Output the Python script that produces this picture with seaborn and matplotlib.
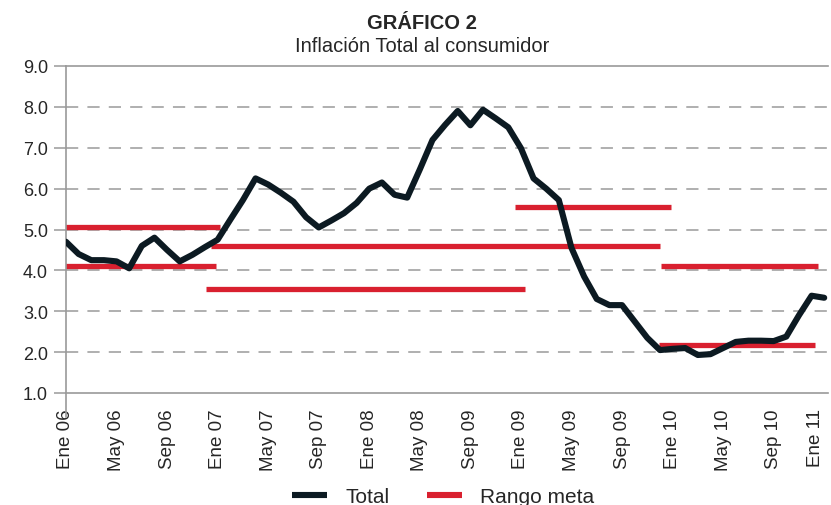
import seaborn as sns
import pandas as pd
import numpy as np
import matplotlib.pyplot as plt
from matplotlib.lines import Line2D

# inflacion total mensual, Ene 06 - Ene 11
total = [4.70, 4.40, 4.25, 4.25, 4.22, 4.05, 4.60, 4.80, 4.50, 4.22,
         4.38, 4.57, 4.75, 5.24, 5.72, 6.25, 6.10, 5.90, 5.68, 5.30,
         5.05, 5.22, 5.40, 5.65, 6.00, 6.15, 5.85, 5.78, 6.47, 7.19,
         7.56, 7.90, 7.55, 7.93, 7.72, 7.50, 6.99, 6.25, 6.00, 5.72,
         4.55, 3.85, 3.30, 3.15, 3.15, 2.75, 2.35, 2.05, 2.08, 2.10,
         1.93, 1.95, 2.10, 2.25, 2.28, 2.28, 2.27, 2.38, 2.90, 3.38,
         3.33]
meses = list(range(len(total)))

# rango meta: nivel, mes inicial, mes final
meta_nivel = [5.05, 4.10, 4.60, 3.55, 5.55, 4.10, 2.17]
meta_desde = [-0.3, -0.5, 11.5, 11.1, 35.5, 47.1, 46.9]
meta_hasta = [12.2, 11.9, 47.0, 36.3, 47.9, 59.5, 59.3]

tick_pos = list(range(0, 61, 4))
tick_labels = ['Ene 06', 'May 06', 'Sep 06', 'Ene 07', 'May 07', 'Sep 07',
               'Ene 08', 'May 08', 'Sep 09', 'Ene 09', 'May 09', 'Sep 09',
               'Ene 10', 'May 10', 'Sep 10', 'Ene 11']

data = pd.DataFrame({'Mes': meses, 'Total': total})

sns.set_theme(style='white')
plt.rcParams['font.family'] = ['Liberation Sans', 'DejaVu Sans']

negro = '#0c1a22'
rojo = '#d9202f'
gris = '#9a9a9a'

fig = plt.figure(figsize=(8.31, 5.06), dpi=100)
ax = fig.add_axes([66 / 831, 1 - 394 / 506, 762 / 831, 327 / 506])

# lineas de rango meta
ax.hlines(meta_nivel, meta_desde, meta_hasta, color=rojo, lw=3.8, zorder=2)

sns.lineplot(x='Mes', y='Total', data=data, color=negro, lw=4.4, ax=ax, zorder=3)

ax.set_xlim(0, 60.3)
ax.set_ylim(1, 9)
ax.set_yticks(np.arange(1, 10, 1))
ax.set_yticklabels([f'{v:.1f}' for v in np.arange(1, 10, 1)], fontsize=13)
ax.set_xticks(tick_pos)
ax.set_xticklabels(tick_labels, rotation=90, fontsize=13.5)
ax.set_xlabel('')
ax.set_ylabel('')

# la ultima etiqueta queda en el borde: se alinea a la derecha del tick
ax.get_xticklabels()[-1].set_horizontalalignment('right')

for y in range(2, 9):
    ax.axhline(y, color=gris, lw=1.1, ls=(0, (8, 6)), zorder=1)

ax.tick_params(axis='y', length=9, width=1.1, color=gris, pad=4, left=True)
ax.tick_params(axis='x', length=0, pad=11)

for s in ['top', 'bottom', 'left']:
    ax.spines[s].set_color(gris)
    ax.spines[s].set_linewidth(1.2)
ax.spines['right'].set_visible(False)
ax.spines['left'].set_bounds(0.42, 9)

fig.text(0.508, 0.943, 'GRÁFICO 2', ha='center', fontsize=14.5, fontweight='bold')
fig.text(0.508, 0.898, 'Inflación Total al consumidor', ha='center', fontsize=14.5)

handles = [Line2D([], [], color=negro, lw=4.4, solid_capstyle='butt'),
           Line2D([], [], color=rojo, lw=4.4, solid_capstyle='butt')]
fig.legend(handles, ['Total', 'Rango meta'], loc='lower center', ncol=2,
           bbox_to_anchor=(0.533, -0.04), frameon=False, fontsize=15,
           handlelength=1.7, columnspacing=1.8, handletextpad=0.87)

fig.savefig('out.png', dpi=100)
